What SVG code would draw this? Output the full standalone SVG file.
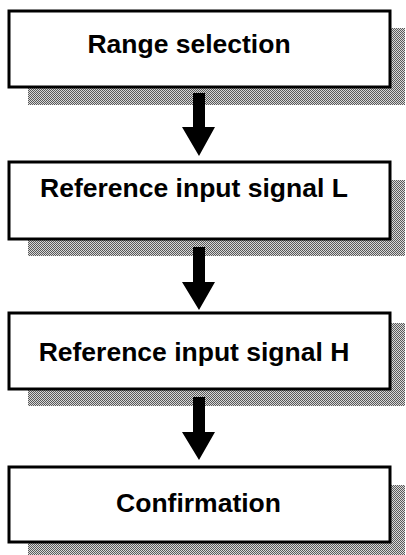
<svg xmlns="http://www.w3.org/2000/svg" width="406" height="555" viewBox="0 0 406 555">
<defs>
<pattern id="dither" width="2" height="2" patternUnits="userSpaceOnUse">
<rect width="2" height="2" fill="#d8d8d8"/>
<rect x="0" y="0" width="1" height="1" fill="#5a5a5a"/>
<rect x="1" y="1" width="1" height="1" fill="#5a5a5a"/>
</pattern>
</defs>
<style>
.shadow{fill:url(#dither);}
.box{fill:#fff;stroke:#000;stroke-width:3;}
.label{font-family:"Liberation Sans",Arial,sans-serif;font-weight:bold;font-size:26.5px;fill:#000;text-anchor:middle;}
.arrow{fill:#000;}
</style>
<g id="node1">
<rect class="shadow" x="28" y="28" width="377" height="77"/>
<rect class="box" x="9" y="11" width="381" height="76"/>
<text class="label" x="189" y="53">Range selection</text>
</g>
<g id="node2">
<rect class="shadow" x="28" y="180" width="377" height="76"/>
<rect class="box" x="9" y="162" width="381" height="77"/>
<text class="label" x="194" y="197">Reference input signal L</text>
</g>
<g id="node3">
<rect class="shadow" x="28" y="323" width="377" height="83"/>
<rect class="box" x="9" y="313" width="381" height="76"/>
<text class="label" x="194" y="361">Reference input signal H</text>
</g>
<g id="node4">
<rect class="shadow" x="28" y="485" width="377" height="70"/>
<rect class="box" x="9" y="467" width="381" height="75"/>
<text class="label" x="198.5" y="512">Confirmation</text>
</g>
<g id="connectors">
<path class="arrow" d="M193,93 H205 V127 H215 L199,156 L182,127 H193 Z"/>
<path class="arrow" d="M193,247 H205 V282 H215 L199,310 L182,282 H193 Z"/>
<path class="arrow" d="M193,397 H205 V432 H215 L199,460 L182,432 H193 Z"/>
</g>
</svg>
